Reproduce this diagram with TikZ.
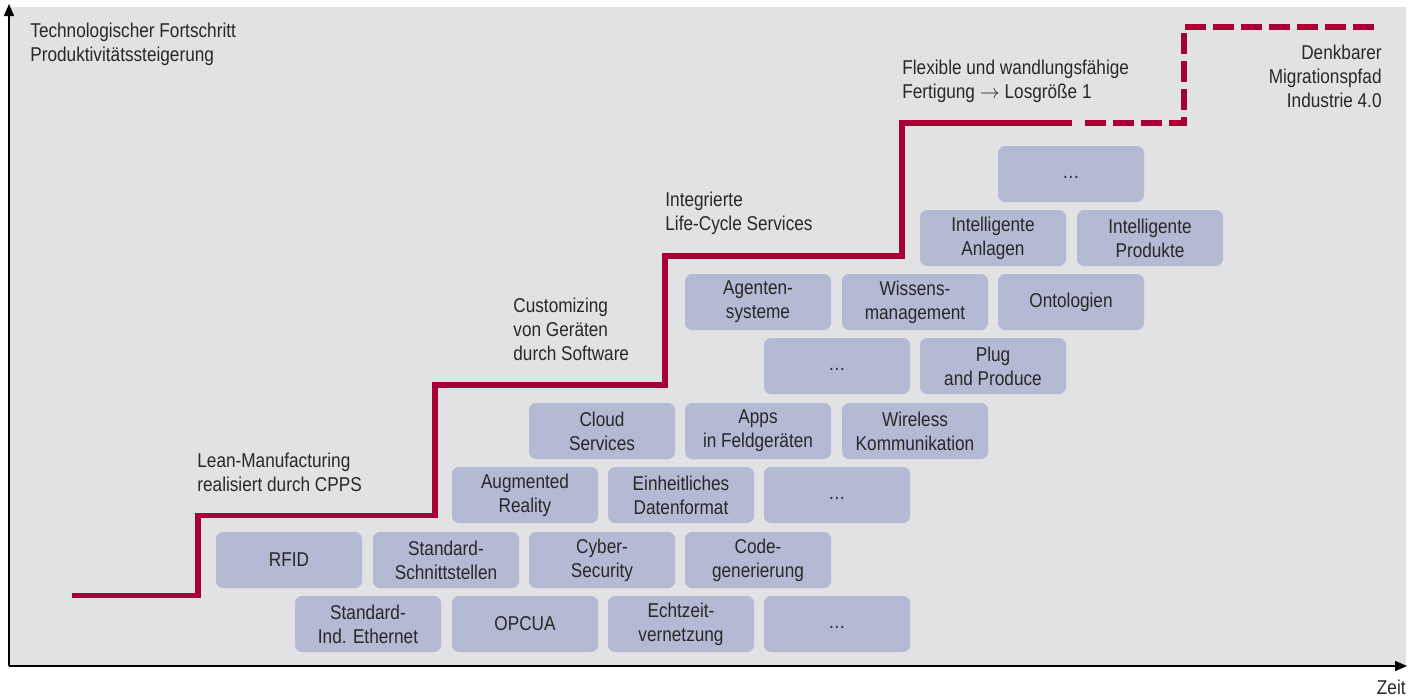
\documentclass[tikz,border=0pt]{standalone}
\usepackage{fontspec}
\setmainfont{Liberation Sans}[FakeStretch=0.86]
\usepackage{tikz}
\usepackage{xcolor}
\usetikzlibrary{arrows.meta}

\definecolor{stufe}{RGB}{166,0,52}
\definecolor{feld}{RGB}{225,226,228}
\definecolor{baustein}{RGB}{180,185,212}
\definecolor{schrift}{RGB}{40,40,40}

\tikzset{
  brick/.style={rectangle,rounded corners=3.5pt,fill=baustein,minimum width=73pt,minimum height=28pt,
    inner sep=1pt,align=center,text=schrift,font=\fontsize{10}{12}\selectfont},
  label/.style={align=left,anchor=west,text=schrift,inner sep=0pt,font=\fontsize{10}{12}\selectfont},
  axis/.style={line width=0.7pt,-{Triangle[length=6pt,width=5pt]}},
}

\begin{document}
\begin{tikzpicture}[x=0.5pt,y=-0.5pt]
\useasboundingbox (0,0) rectangle (1419,696);
\fill [feld] (9,7) rectangle (1406,666);
\draw [axis] (9,666) -- (9,4);
\draw [axis] (9,666) -- (1407,666);
\node [label] (yname) at (30,44) {Technologischer Fortschritt\\Produktivitätssteigerung};
\node [label,anchor=east,align=right] (xname) at (1406,687) {Zeit};

% Bausteine, unterste Reihe zuerst
\node [brick] (eth) at (368,624) {Standard-\\Ind. Ethernet};
\node [brick] (opc) at (525,624) {OPCUA};
\node [brick] (echt) at (681,624) {Echtzeit-\\vernetzung};
\node [brick] (dots1) at (837,624) {\strut\dots};

\node [brick] (rfid) at (289,560) {RFID};
\node [brick] (schnitt) at (446,560) {Standard-\\Schnittstellen};
\node [brick] (cyber) at (602,560) {Cyber-\\Security};
\node [brick] (code) at (758,560) {Code-\\generierung};

\node [brick] (ar) at (525,495) {Augmented\\Reality};
\node [brick] (daten) at (681,495) {Einheitliches\\Datenformat};
\node [brick] (dots2) at (837,495) {\strut\dots};

\node [brick] (cloud) at (602,431) {Cloud\\Services};
\node [brick] (apps) at (758,431) {Apps\\in Feldgeräten};
\node [brick] (wireless) at (915,431) {Wireless\\Kommunikation};

\node [brick] (dots3) at (837,366) {\strut\dots};
\node [brick] (plug) at (993,366) {Plug\\and Produce};

\node [brick] (agent) at (758,302) {Agenten-\\systeme};
\node [brick] (wissen) at (915,302) {Wissens-\\management};
\node [brick] (onto) at (1071,302) {Ontologien};

\node [brick] (anlagen) at (993,238) {Intelligente\\Anlagen};
\node [brick] (produkte) at (1150,238) {Intelligente\\Produkte};

\node [brick] (dots4) at (1071,174) {\strut\dots};

% Stufen
\draw [stufe,line width=2.6pt] (72,595.5) -- (198,595.5) -- (198,515.5) -- (435,515.5) -- (435,385)
  -- (665,385) -- (665,256) -- (902,256) -- (902,123) -- (1072,123);
\draw [stufe,line width=2.6pt,dash pattern=on 10.5pt off 3.5pt] (1085,123) -- (1184,123) -- (1184,27) -- (1380,27);

\node [label] (lean) at (197,472) {Lean-Manufacturing\\realisiert durch CPPS};
\node [label] (custom) at (513,329) {Customizing\\von Geräten\\durch Software};
\node [label] (life) at (665,213) {Integrierte\\Life-Cycle Services};
\node [label] (flex) at (902,81) {Flexible und wandlungsfähige\\Fertigung $\rightarrow$ Losgröße 1};
\node [label,anchor=east,align=right] (pfad) at (1382,76) {Denkbarer\\Migrationspfad\\Industrie 4.0};
\end{tikzpicture}
\end{document}
